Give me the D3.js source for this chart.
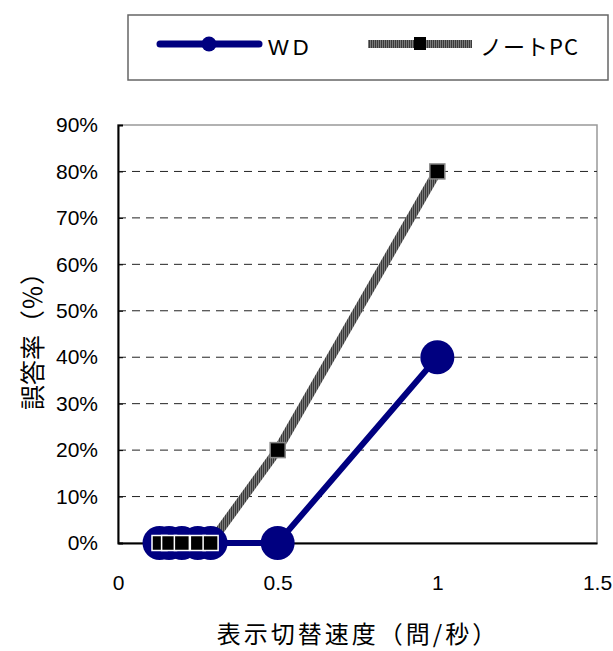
<!DOCTYPE html>
<html><head><meta charset="utf-8">
<script src="https://cdn.jsdelivr.net/npm/d3@7"></script>
<style>
body{margin:0;background:#fff;}
text{font-family:"Liberation Sans","Noto Sans CJK JP",sans-serif;}
.jp{font-family:"Noto Sans CJK JP","Liberation Sans",sans-serif;}
</style></head>
<body>
<svg id="c" width="613" height="651"></svg>
<script>
const xValues = [0.13, 0.16, 0.2, 0.25, 0.29, 0.5, 1];
const wdValues = [0, 0, 0, 0, 0, 0, 40];
const pcValues = [0, 0, 0, 0, 0, 20, 80];
const yTicks = [0,10,20,30,40,50,60,70,80,90];
const xTicks = [0, 0.5, 1, 1.5];
const seriesNames = ["WD", "ノートPC"];

const svg = d3.select("#c");
const L = 118, R = 597, T = 125, B = 543;
const x = d3.scaleLinear().domain([0,1.5]).range([L,R]);
const y = d3.scaleLinear().domain([0,90]).range([B,T]);

const defs = svg.append("defs");
const pat = defs.append("pattern").attr("id","hatch").attr("patternUnits","userSpaceOnUse")
  .attr("width",2).attr("height",2);
pat.append("rect").attr("width",2).attr("height",2).attr("fill","#3a3a3a");
pat.append("rect").attr("width",1).attr("height",2).attr("fill","#7a7a7a");

// plot border
svg.append("rect").attr("x",L).attr("y",T).attr("width",R-L).attr("height",B-T)
  .attr("fill","none").attr("stroke","#999").attr("stroke-width",1.5);

// gridlines
svg.append("g").selectAll("line").data(yTicks.filter(d=>d>0 && d<90)).join("line")
  .attr("x1",L).attr("x2",R).attr("y1",d=>y(d)).attr("y2",d=>y(d))
  .attr("stroke","#222").attr("stroke-width",1).attr("stroke-dasharray","8,6");

// y axis
const yAxis = d3.axisLeft(y).tickValues(yTicks).tickFormat(d=>d+"%").tickSize(-5).tickPadding(20);
const ga = svg.append("g").attr("transform",`translate(${L},0)`).call(yAxis);
ga.select(".domain").attr("stroke","#000").attr("stroke-width",2);
ga.selectAll(".tick line").attr("stroke","#000");
ga.selectAll("text").attr("font-size",21).attr("fill","#000").attr("font-family","Liberation Sans");

// x axis
const xAxis = d3.axisBottom(x).tickValues(xTicks).tickFormat(d3.format("")).tickSize(0).tickPadding(32);
const gx = svg.append("g").attr("transform",`translate(0,${B})`).call(xAxis);
gx.select(".domain").attr("stroke","#000").attr("stroke-width",2);
gx.selectAll("text").attr("font-size",21).attr("fill","#000").attr("font-family","Liberation Sans");

// PC line (hatched)
const pcData = xValues.map((v,i)=>({x:v,y:pcValues[i]}));
const wdData = xValues.map((v,i)=>({x:v,y:wdValues[i]}));
const line = d3.line().x(d=>x(d.x)).y(d=>y(d.y));
svg.append("path").datum(pcData).attr("d",line).attr("fill","none")
  .attr("stroke","url(#hatch)").attr("stroke-width",9);

// WD line and markers
svg.append("path").datum(wdData).attr("d",line).attr("fill","none")
  .attr("stroke","#000080").attr("stroke-width",6);
svg.append("g").selectAll("circle").data(wdData).join("circle")
  .attr("cx",d=>x(d.x)).attr("cy",d=>y(d.y)).attr("r",17).attr("fill","#000080");

// PC markers
const s = 15;
svg.append("g").selectAll("rect").data(pcData).join("rect")
  .attr("x",d=>x(d.x)-s/2).attr("y",d=>y(d.y)-s/2).attr("width",s).attr("height",s)
  .attr("fill","#000").attr("stroke",(d,i)=>d.y===0?"#fff":"#888").attr("stroke-width",1.5);

// axis titles
svg.append("text").attr("class","jp").attr("x",358).attr("y",643).attr("text-anchor","middle")
  .attr("font-size",24).attr("letter-spacing",3).attr("fill","#000").text("表示切替速度（問/秒）");
svg.append("text").attr("class","jp").attr("transform","translate(31,335) rotate(-90)")
  .attr("text-anchor","middle").attr("dominant-baseline","central")
  .attr("font-size",25).attr("fill","#000").text("誤答率（％）");

// legend
const lg = svg.append("g");
lg.append("rect").attr("x",128).attr("y",15).attr("width",480).attr("height",65)
  .attr("fill","#fff").attr("stroke","#666").attr("stroke-width",1.5);
lg.append("line").attr("x1",160).attr("x2",259).attr("y1",44).attr("y2",44)
  .attr("stroke","#000080").attr("stroke-width",7).attr("stroke-linecap","round");
lg.append("circle").attr("cx",209).attr("cy",44).attr("r",7.5).attr("fill","#000080");
lg.append("text").attr("x",268).attr("y",55).attr("font-size",22).attr("letter-spacing",4)
  .attr("fill","#000").text(seriesNames[0]);
lg.append("rect").attr("x",368).attr("y",40).attr("width",104).attr("height",8).attr("fill","url(#hatch)");
lg.append("rect").attr("x",414).attr("y",37).attr("width",12).attr("height",13).attr("fill","#000");
lg.append("text").attr("class","jp").attr("x",480).attr("y",55).attr("font-size",22).attr("letter-spacing",1)
  .attr("fill","#000").text(seriesNames[1]);
</script>
</body></html>
